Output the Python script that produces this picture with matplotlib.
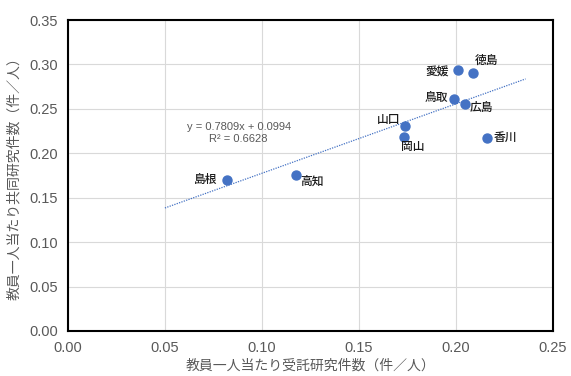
import matplotlib
matplotlib.use("Agg")
import matplotlib.pyplot as plt
import numpy as np

plt.rcParams['font.family'] = ['Liberation Sans', 'Noto Sans CJK JP', 'DejaVu Sans']

names = ["島根", "高知", "山口", "岡山", "鳥取", "広島", "愛媛", "徳島", "香川"]
x_vals = [0.082, 0.1175, 0.1737, 0.1732, 0.199, 0.205, 0.201, 0.209, 0.216]
y_vals = [0.170, 0.1755, 0.2307, 0.2183, 0.261, 0.2555, 0.2937, 0.290, 0.217]
slope, intercept, r2 = 0.7809, 0.0994, 0.6628
trend_x = [0.05, 0.236]

# label offsets in points
offsets = {
    "島根": (-7, 0, "right", "center"),
    "高知": (3, -5, "left", "center"),
    "山口": (-3, 4, "right", "center"),
    "岡山": (-2, -7, "left", "center"),
    "鳥取": (-4, 1, "right", "center"),
    "広島": (3, -3, "left", "center"),
    "愛媛": (-6, -2, "right", "center"),
    "徳島": (1, 9, "left", "center"),
    "香川": (5, 0, "left", "center"),
}

fig = plt.figure(figsize=(5.71, 3.76), dpi=100)
ax = fig.add_axes([0.119, 0.1197, 0.849, 0.8271])

ax.set_xlim(0, 0.25)
ax.set_ylim(0, 0.35)
ax.set_xticks(np.arange(0, 0.2501, 0.05))
ax.set_yticks(np.arange(0, 0.3501, 0.05))
ax.xaxis.set_major_formatter(matplotlib.ticker.FormatStrFormatter('%.2f'))
ax.yaxis.set_major_formatter(matplotlib.ticker.FormatStrFormatter('%.2f'))
ax.grid(True, color='#d9d9d9', linewidth=0.8)
ax.set_axisbelow(True)
for s in ax.spines.values():
    s.set_color('black')
    s.set_linewidth(1.5)
ax.tick_params(length=0, labelsize=10.5, colors='#595959', pad=7)

tx = np.array(trend_x)
ax.plot(tx, slope * tx + intercept, linestyle=(0, (1, 1)), color='#4472C4', linewidth=0.9)

ax.scatter(x_vals, y_vals, s=42, color='#4472C4', zorder=3)

for n, x, y in zip(names, x_vals, y_vals):
    dx, dy, ha, va = offsets[n]
    ax.annotate(n, (x, y), xytext=(dx, dy), textcoords='offset points',
                ha=ha, va=va, fontsize=8.5, color='#1a1a1a', fontweight='medium')

ax.text(0.088, 0.2225, f"y = {slope}x + {intercept}\nR² = {r2}", ha='center', va='center',
        fontsize=8, color='#595959', linespacing=1.3)

ax.set_xlabel("教員一人当たり受託研究件数（件／人）", fontsize=10, color='#595959', labelpad=3)
ax.set_ylabel("教員一人当たり共同研究件数（件／人）", fontsize=10, color='#595959', labelpad=6)

fig.savefig("out.png", dpi=100)
